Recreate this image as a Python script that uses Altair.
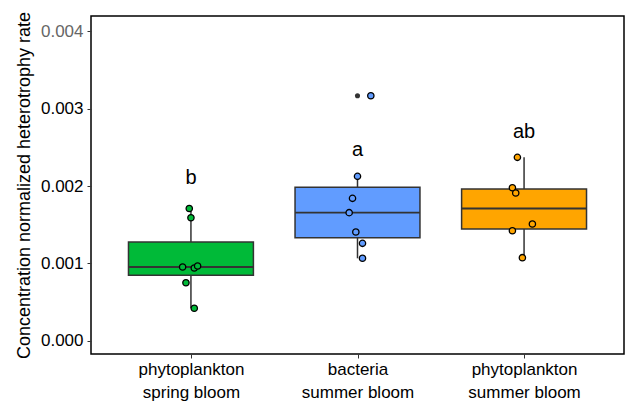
import altair as alt
import numpy as np
import pandas as pd

# ---- data ----
categories = ["phytoplankton\nspring bloom", "bacteria\nsummer bloom", "phytoplankton\nsummer bloom"]
fill_colors = ["#00BA38", "#619CFF", "#FFA500"]

spring_vals = [0.00171, 0.00159, 0.000955, 0.000942, 0.000968, 0.000752, 0.000422]
spring_jit = [-0.01, 0.00, -0.05, 0.02, 0.04, -0.03, 0.02]
bact_vals = [0.003165, 0.002125, 0.001841, 0.001656, 0.001406, 0.001260, 0.001067]
bact_jit = [0.08, 0.00, -0.03, -0.05, -0.01, 0.03, 0.03]
summer_vals = [0.00237, 0.001978, 0.00191, 0.00151, 0.001423, 0.001075]
summer_jit = [-0.04, -0.07, -0.05, 0.05, -0.07, -0.01]

letters = ["b", "a", "ab"]
letter_y = [0.00203, 0.00239, 0.002615]

y_ticks = [0.0, 0.001, 0.002, 0.003, 0.004]

groups = [(spring_vals, spring_jit), (bact_vals, bact_jit), (summer_vals, summer_jit)]

# ---- tables ----
pts_rows, box_rows, out_rows = [], [], []
for i, (vals, jit) in enumerate(groups):
    pos = i + 1
    for v, j in zip(vals, jit):
        pts_rows.append({"cat": categories[i], "x": pos + j, "y": v})
    a = np.array(vals)
    q1, med, q3 = np.quantile(a, [0.25, 0.5, 0.75])
    iqr = q3 - q1
    lo = a[a >= q1 - 1.5 * iqr].min()
    hi = a[a <= q3 + 1.5 * iqr].max()
    box_rows.append({"cat": categories[i], "pos": pos, "x1": pos - 0.375, "x2": pos + 0.375,
                     "q1": q1, "med": med, "q3": q3, "lo": lo, "hi": hi,
                     "letter": letters[i], "ly": letter_y[i]})
    for v in a[(a > hi) | (a < lo)]:
        out_rows.append({"pos": pos, "y": v})

pts = pd.DataFrame(pts_rows)
box = pd.DataFrame(box_rows)
outl = pd.DataFrame(out_rows)

label_expr = " : ".join(
    f"datum.value == {i+1} ? {str(c.split(chr(10)))}" for i, c in enumerate(categories[:-1])
) + f" : {str(categories[-1].split(chr(10)))}"

xscale = alt.Scale(domain=[0.4, 3.6], nice=False, zero=False)
yscale = alt.Scale(domain=[-0.000168, 0.004194], nice=False, zero=False)

FONT = "Liberation Sans, Arial, sans-serif"

xax = alt.Axis(values=[1, 2, 3], labelExpr=label_expr, title=None, grid=False, domain=False,
               tickColor="#333333", tickSize=4, labelFontSize=17, labelColor="black",
               labelLineHeight=23, labelPadding=3, labelFont=FONT)
yax = alt.Axis(values=y_ticks, format=".3f", title="Concentration normalized heterotrophy rate",
               grid=False, domain=False, tickColor="#333333", tickSize=4, labelFontSize=17,
               labelColor={"condition": {"test": "datum.value > 0.0035", "value": "#666666"}, "value": "black"},
               titleFontSize=18, titleFontWeight="normal", titleColor="black", labelPadding=4,
               titlePadding=7, labelFont=FONT, titleFont=FONT)

color_scale = alt.Scale(domain=categories, range=fill_colors)

base = alt.Chart(box)

whisk = base.mark_rule(color="#333333", strokeWidth=1.5).encode(
    x=alt.X("pos:Q", scale=xscale, axis=xax),
    y=alt.Y("lo:Q", scale=yscale, axis=yax),
    y2="hi:Q",
)
boxes = base.mark_rect(stroke="#333333", strokeWidth=1.5).encode(
    x=alt.X("x1:Q", scale=xscale), x2="x2:Q",
    y=alt.Y("q1:Q", scale=yscale), y2="q3:Q",
    fill=alt.Color("cat:N", scale=color_scale, legend=None),
)
median = base.mark_rule(color="#333333", strokeWidth=1.8).encode(
    x=alt.X("x1:Q", scale=xscale), x2="x2:Q",
    y=alt.Y("med:Q", scale=yscale),
)
outliers = alt.Chart(outl).mark_circle(color="#333333", opacity=1, size=26).encode(
    x=alt.X("pos:Q", scale=xscale), y=alt.Y("y:Q", scale=yscale)
)
points = alt.Chart(pts).mark_point(filled=True, stroke="black", strokeWidth=1.3, size=40, opacity=1,
                                   strokeOpacity=1, fillOpacity=1).encode(
    x=alt.X("x:Q", scale=xscale), y=alt.Y("y:Q", scale=yscale),
    fill=alt.Color("cat:N", scale=color_scale, legend=None),
)
text = base.mark_text(fontSize=20, font=FONT, color="black", baseline="alphabetic").encode(
    x=alt.X("pos:Q", scale=xscale), y=alt.Y("ly:Q", scale=yscale), text="letter:N"
)

chart = alt.layer(whisk, boxes, median, outliers, points, text).properties(
    width=533, height=338,
    autosize=alt.AutoSizeParams(type="none"),
    padding={"left": 91, "top": 16, "right": 1, "bottom": 51},
    background="white",
).configure_view(stroke="black", strokeWidth=1.5)

chart.save("out.html", embed_options={"renderer": "svg", "actions": False})
